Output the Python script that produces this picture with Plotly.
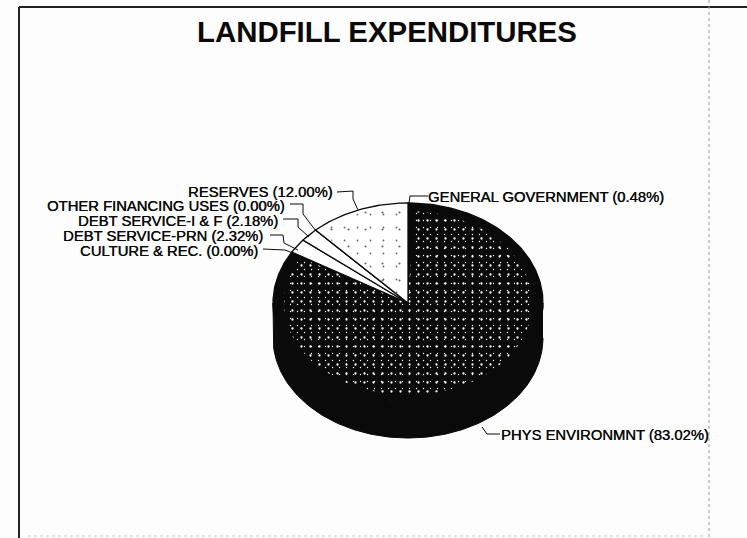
import numpy as np
import plotly.graph_objects as go

TITLE = "LANDFILL EXPENDITURES"
categories = ["GENERAL GOVERNMENT", "PHYS ENVIRONMNT", "CULTURE & REC.", "DEBT SERVICE-PRN",
              "DEBT SERVICE-I & F", "OTHER FINANCING USES", "RESERVES"]
shares = [0.48, 83.02, 0.00, 2.32, 2.18, 0.00, 12.00]

CX, CY, RX, RY, DEPTH = 408, 303, 135, 100, 35
FONT = "Liberation Sans"
INK = "#0a0a0a"
PAPER = "#fdfdfd"
THICK = "0.35px 0 0 #0a0a0a"
SPECK_REACH = 0.92


def arc(a0, a1, n=160, scale=1.0):
    t = np.radians(np.linspace(a0, a1, n))
    return CX + scale * RX * np.sin(t), CY - scale * RY * np.cos(t)


fig = go.Figure()

# rim of the tilted disc
fx, fy = arc(90, 270)
fig.add_trace(go.Scatter(
    x=np.r_[fx, fx[::-1]], y=np.r_[fy, fy[::-1] + DEPTH], mode="lines", fill="toself",
    fillcolor=INK, line=dict(color=INK, width=1), hoverinfo="skip", showlegend=False))

# top face: one wedge per category, clockwise from 12 o'clock
bounds = np.r_[0, np.cumsum(shares)] * 3.6
for name, share, a0, a1 in zip(categories, shares, bounds[:-1], bounds[1:]):
    ax, ay = arc(a0, a1, max(2, int(share * 4)))
    dark = name in ("PHYS ENVIRONMNT", "GENERAL GOVERNMENT")
    fig.add_trace(go.Scatter(
        x=np.r_[CX, ax, CX], y=np.r_[CY, ay, CY], mode="lines", fill="toself",
        fillcolor=INK if dark else "#ffffff",
        line=dict(color=INK, width=1.3), name=f"{name} ({share:.2f}%)",
        hoverinfo="name", showlegend=False))
    if name == "PHYS ENVIRONMNT":
        layers = [dict(shape=".", bgcolor="rgba(0,0,0,0)", fgcolor="#ffffff", size=9, solidity=0.05, fillmode="replace"),
                  dict(shape=".", bgcolor="rgba(0,0,0,0)", fgcolor="#ffffff", size=7, solidity=0.03, fillmode="replace")]
        reach = SPECK_REACH
    elif name == "RESERVES":
        layers = [dict(shape=".", bgcolor="rgba(0,0,0,0)", fgcolor="#666666", size=17, solidity=0.012, fillmode="replace"),
                  dict(shape=".", bgcolor="rgba(0,0,0,0)", fgcolor="#666666", size=13, solidity=0.015, fillmode="replace")]
        reach = 0.97
    else:
        continue
    sx, sy = arc(a0 + 1, a1 - 1, max(2, int(share * 4)), reach)
    for fp in layers:
        fig.add_trace(go.Scatter(
            x=np.r_[CX, sx, CX], y=np.r_[CY, sy, CY], mode="lines", fill="toself",
            fillcolor="rgba(0,0,0,0)", fillpattern=fp,
            line=dict(color="rgba(0,0,0,0)", width=0), hoverinfo="skip", showlegend=False))

# labels with their stepped leader lines
labels = [
    (0, 428, 197, "left", [(428, 196), (410, 196), (409, 203)]),
    (1, 501, 435, "left", [(482, 427), (487, 434), (500, 434)]),
    (2, 258, 251, "right", [(263, 249), (285, 250), (295, 254)]),
    (3, 263, 236, "right", [(270, 235), (283, 235), (284, 243), (298, 250)]),
    (4, 278, 221, "right", [(283, 219), (298, 219), (298, 227), (309, 237)]),
    (5, 285, 206, "right", [(290, 204), (303, 204), (303, 214), (316, 231)]),
    (6, 333, 192, "right", [(337, 192), (353, 191), (353, 199), (358, 210)]),
]
for i, x, y, anchor, path in labels:
    fig.add_annotation(x=x, y=y, xref="x", yref="y", showarrow=False, xanchor=anchor, yanchor="middle",
                       borderpad=0, borderwidth=0,
                       text=f"{categories[i]} ({shares[i]:.2f}%)",
                       font=dict(family=FONT, size=14.8, color=INK, shadow=THICK))
    fig.add_trace(go.Scatter(x=[p[0] for p in path], y=[p[1] for p in path], mode="lines",
                             line=dict(color=INK, width=1), hoverinfo="skip", showlegend=False))

# scanned page frame
frame = [
    dict(x0=19, y0=7, x1=747, y1=7, line=dict(color="#222222", width=2)),
    dict(x0=19, y0=7, x1=19, y1=538, line=dict(color="#222222", width=2)),
    dict(x0=709, y0=0, x1=709, y1=538, line=dict(color="#9a9a9a", width=1, dash="dot")),
    dict(x0=28, y0=536, x1=704, y1=536, line=dict(color="#c4c4c4", width=1, dash="dot")),
]
for s in frame:
    s.update(type="line", xref="x", yref="y")

fig.update_layout(
    width=747, height=538, autosize=False, margin=dict(l=0, r=0, t=0, b=0),
    paper_bgcolor=PAPER, plot_bgcolor=PAPER, showlegend=False, shapes=frame,
    title=dict(text=f"<b>{TITLE}</b>", x=387 / 747, xanchor="center", y=1 - 32 / 538, yanchor="middle",
               font=dict(family=FONT, size=29.4, color=INK)),
    xaxis=dict(range=[0, 747], visible=False, fixedrange=True),
    yaxis=dict(range=[538, 0], visible=False, fixedrange=True),
)
fig.write_html("out.html", config=dict(displayModeBar=False),
               post_script="document.body.style.margin='0';document.body.style.overflow='hidden';"
                           "document.body.style.background='#fdfdfd';")
